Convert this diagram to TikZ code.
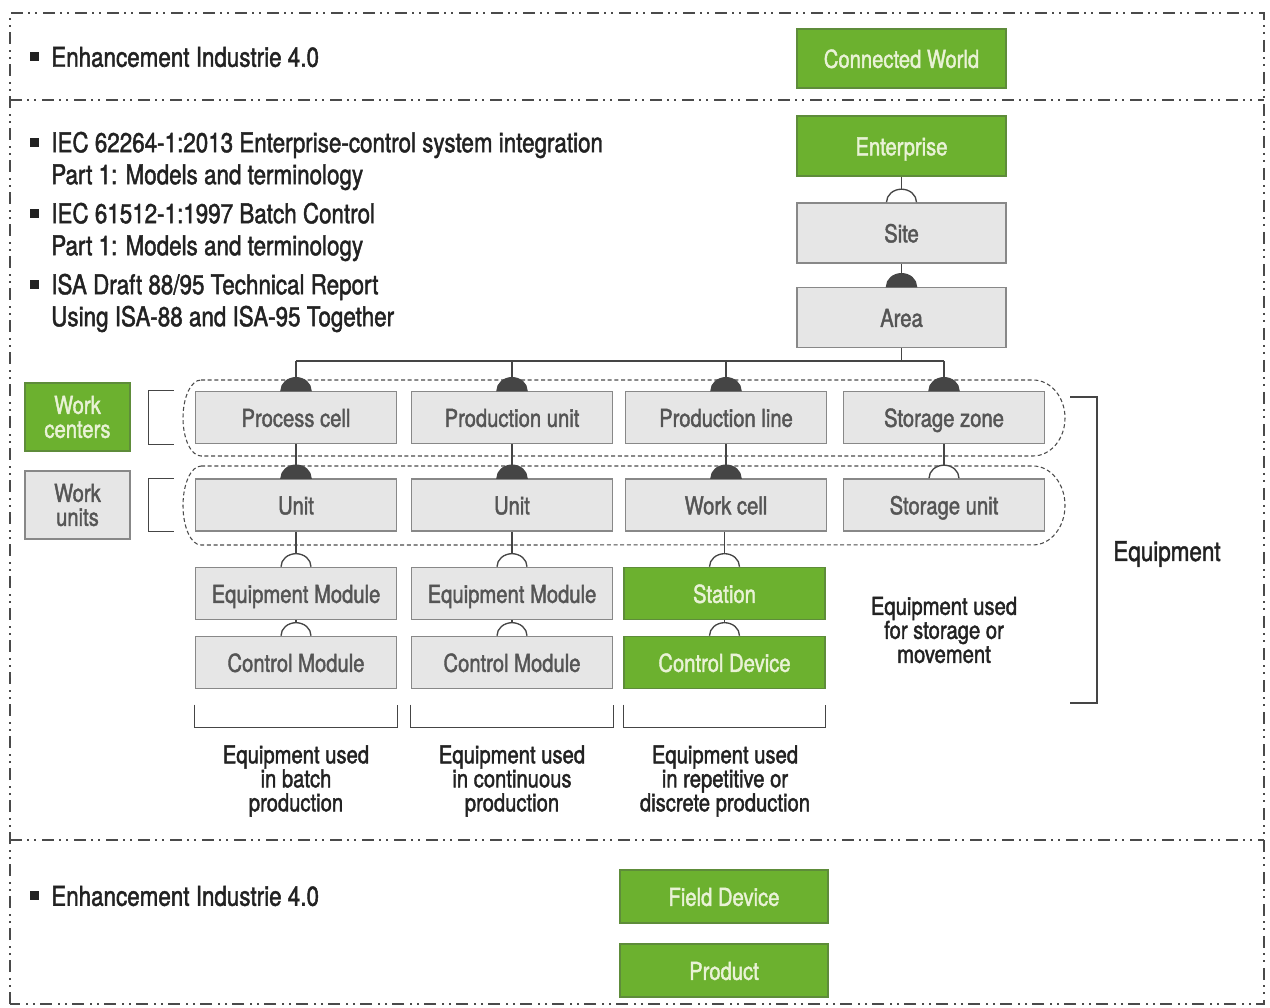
\documentclass[tikz,border=0pt]{standalone}
\usepackage{fontspec}
\setmainfont{TeX Gyre Heros}[FakeStretch=0.82,FakeBold=1.6]
\newcommand{\sq}{\makebox[15.75pt][l]{\rule[4pt]{6.75pt}{6.75pt}}}
\newcommand{\opentop}[1]{\draw[link,fill=white] ([xshift=-11.25pt]#1.north) arc (180:0:11.25pt and 9.75pt);}
\newcommand{\filltop}[1]{\draw[link,fill=linecol] ([xshift=-11.25pt]#1.north) arc (180:0:11.25pt and 9.75pt) -- cycle;}
\begin{document}
\begin{tikzpicture}[x=0.75pt,y=0.75pt,
 cell/.style={draw=boxline,fill=boxfill,text=boxtext,line width=1.2pt,minimum width=150.75pt,minimum height=39pt,inner sep=0pt,font=\fontsize{18.5}{18}\selectfont},
 box/.style={cell,text height=15.5pt,text depth=1.5pt},
 gcell/.style={cell,draw=greenline,fill=greenfill,text=greentext},
 gbox/.style={box,draw=greenline,fill=greenfill,text=greentext},
 link/.style={draw=linecol,line width=1pt},
 frame/.style={draw=framecol,line width=1.6pt,dash pattern=on 9pt off 3.75pt on 1.5pt off 3.75pt on 1.5pt off 4.5pt},
 group/.style={draw=framecol,line width=0.8pt,dash pattern=on 3pt off 2pt},
 label/.style={align=center,text=textcol,inner sep=0pt,font=\fontsize{18.5}{18}\selectfont},
 head/.style={anchor=west,align=left,text=textcol,inner sep=0pt,font=\fontsize{20.5}{24}\selectfont}]
 \definecolor{greenfill}{HTML}{6CB12F}
 \definecolor{greenline}{HTML}{5E8C3A}
 \definecolor{greentext}{HTML}{E9F2D6}
 \definecolor{boxfill}{HTML}{E6E6E6}
 \definecolor{boxline}{HTML}{888888}
 \definecolor{boxtext}{HTML}{555555}
 \definecolor{linecol}{HTML}{454545}
 \definecolor{framecol}{HTML}{4A4A4A}
 \definecolor{textcol}{HTML}{222222}
 \useasboundingbox (0,0) rectangle (1270,1007);
 % outer frame and sections
 \draw[frame] (10,3) rectangle (1264,994);
 \draw[frame] (10,907) -- (1264,907);
 \draw[frame] (10,167) -- (1264,167);
 % top section
 \node[head] (topnote) at (30,950) {\sq Enhancement Industrie 4.0};
 \node[gbox,minimum width=156.75pt,minimum height=44.25pt] (cworld) at (901.5,948.5) {Connected World};
 % standards
 \node[head] (iec1) at (30,846) {\sq IEC 62264-1:2013 Enterprise-control system integration\\\hspace*{15.75pt}Part 1: Models and terminology};
 \node[head] (iec2) at (30,775) {\sq IEC 61512-1:1997 Batch Control\\\hspace*{15.75pt}Part 1: Models and terminology};
 \node[head] (isa) at (30,704) {\sq ISA Draft 88/95 Technical Report\\\hspace*{15.75pt}Using ISA-88 and ISA-95 Together};
 % hierarchy head
 \node[gbox,minimum width=156.75pt,minimum height=45pt] (ent) at (901.5,861) {Enterprise};
 \node[box,minimum width=156.75pt,minimum height=45pt] (site) at (901.5,774) {Site};
 \node[box,minimum width=156.75pt,minimum height=45pt] (area) at (901.5,689.5) {Area};
 % dashed groups
 \draw[group] (201,627) -- (1033,627) arc (90:-90:24pt and 28.5pt) -- (201,551) arc (270:90:13.5pt and 28.5pt);
 \draw[group] (201,541) -- (1033,541) arc (90:-90:24pt and 29.6pt) -- (201,462) arc (270:90:13.5pt and 29.6pt);
 % rows
 \node[box] (pcell) at (296,589.5) {Process cell};
 \node[box] (punit) at (512,589.5) {Production unit};
 \node[box] (pline) at (726,589.5) {Production line};
 \node[box] (szone) at (944,589.5) {Storage zone};
 \node[box] (unita) at (296,502) {Unit};
 \node[box] (unitb) at (512,502) {Unit};
 \node[box] (wcell) at (726,502) {Work cell};
 \node[box] (sunit) at (944,502) {Storage unit};
 \node[box] (emoda) at (296,413.5) {Equipment Module};
 \node[box] (emodb) at (512,413.5) {Equipment Module};
 \node[gbox] (station) at (724.5,413.5) {Station};
 \node[box] (cmoda) at (296,344.5) {Control Module};
 \node[box] (cmodb) at (512,344.5) {Control Module};
 \node[gbox] (cdev) at (724.5,344.5) {Control Device};
 % legend left
 \node[gcell,minimum width=78.75pt,minimum height=51pt,align=center] (wcent) at (77.5,590) {Work\\centers};
 \node[cell,minimum width=78.75pt,minimum height=51pt,align=center] (wunits) at (77.5,502) {Work\\units};
 \draw[link] ([xshift=-15.75pt]pcell.north west) -- ++(-25,0) |- ([xshift=-15.75pt]pcell.south west);
 \draw[link] ([xshift=-15.75pt]unita.north west) -- ++(-25,0) |- ([xshift=-15.75pt]unita.south west);
 % connectors
 \draw[link] (ent.south) -- ([yshift=9.75pt]site.north);
 \opentop{site}
 \draw[link] (site.south) -- ([yshift=9.75pt]area.north);
 \filltop{area}
 \coordinate (bus) at (900,646);
 \draw[link] (area.south) -- (area.south |- bus);
 \draw[link] (pcell.north |- bus) -- (szone.north |- bus);
 \foreach \n in {pcell,punit,pline,szone} {
  \draw[link] (\n.north |- bus) -- ([yshift=9.75pt]\n.north);
  \filltop{\n}
 }
 \foreach \a/\b in {pcell/unita,punit/unitb,pline/wcell} {
  \draw[link] (\a.south) -- ([yshift=9.75pt]\b.north);
  \filltop{\b}
 }
 \foreach \a/\b in {szone/sunit,unita/emoda,unitb/emodb,wcell/station,emoda/cmoda,emodb/cmodb,station/cdev} {
  \draw[link] (\b.north |- \a.south) -- ([yshift=9.75pt]\b.north);
  \opentop{\b}
 }
 % brackets below
 \foreach \n in {cmoda,cmodb,cdev}
  \draw[link] ([yshift=-11.5pt]\n.south west) -- ++(0,-23) -| ([yshift=-11.5pt]\n.south east);
 \node[label] (batch) at (296,226) {Equipment used\\in batch\\production};
 \node[label] (cont) at (512,226) {Equipment used\\in continuous\\production};
 \node[label] (discr) at (725,226) {Equipment used\\in repetitive or\\discrete production};
 \node[label] (store) at (944,377) {Equipment used\\for storage or\\movement};
 % equipment bracket
 \draw[link] (1070,610) -- (1097,610) -- (1097,304) -- (1070,304);
 \node[label,font=\fontsize{20.5}{24}\selectfont] (equip) at (1167,453) {Equipment};
 % bottom section
 \node[head] (lownote) at (30,111) {\sq Enhancement Industrie 4.0};
 \node[gbox,minimum width=156pt,minimum height=39.75pt] (fdev) at (724,110.5) {Field Device};
 \node[gbox,minimum width=156pt,minimum height=39.75pt] (prod) at (724,36.5) {Product};
\end{tikzpicture}
\end{document}
